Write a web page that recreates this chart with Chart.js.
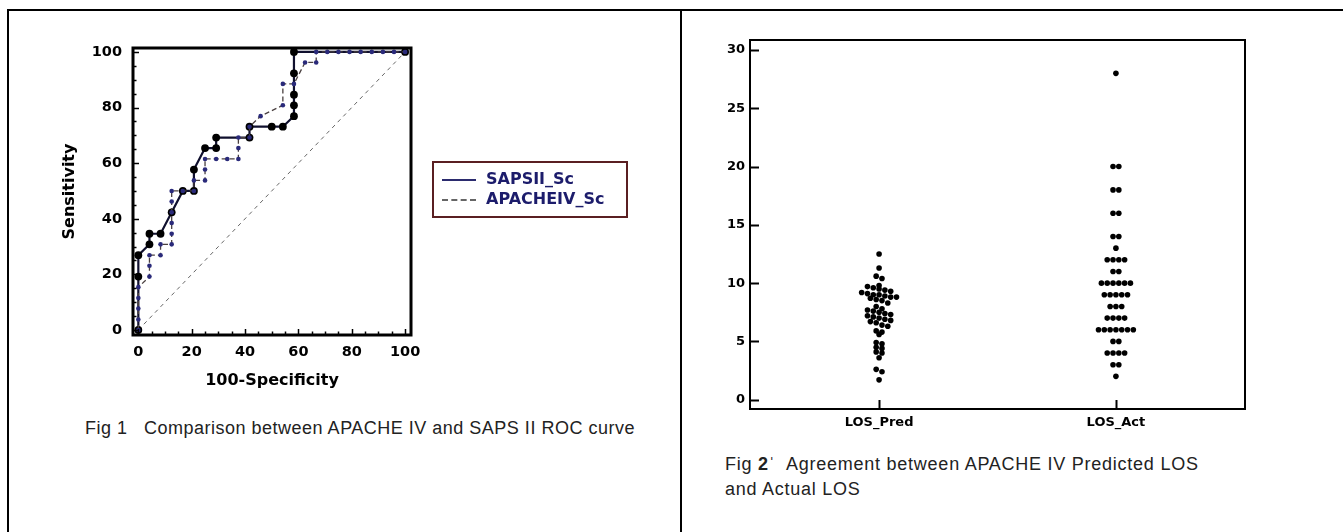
<!DOCTYPE html>
<html>
<head>
<meta charset="utf-8">
<script src="https://cdn.jsdelivr.net/npm/chart.js@4.4.1/dist/chart.umd.min.js"></script>
<style>
  html, body { margin: 0; padding: 0; background: #fff; }
  body { width: 1343px; height: 532px; position: relative; overflow: hidden; font-family: 'Liberation Sans', Arial, sans-serif; }
  .frame { position: absolute; left: 7px; top: 9px; width: 1400px; height: 600px; border-left: 2px solid #000; border-top: 2px solid #000; }
  .divider { position: absolute; left: 680px; top: 9px; width: 2px; height: 600px; background: #000; }
  #rocWrap { position: absolute; left: 20px; top: 20px; }
  #dotWrap { position: absolute; left: 700px; top: 20px; }
  .legend { position: absolute; left: 432px; top: 161px; width: 192px; height: 53px; border: 2px solid #5a1f22; font-family: 'DejaVu Sans', Verdana, sans-serif; font-weight: bold; font-size: 16px; color: #1c1c6b; }
  .legend .row { position: absolute; left: 8px; height: 20px; line-height: 20px; white-space: nowrap; }
  .legend .row span.sample { display: inline-block; width: 34px; vertical-align: middle; margin-right: 10px; }
  .legend .solid { border-top: 2px solid #2b2b6e; }
  .legend .dashed { border-top: 2px dashed #666; }
  .caption { position: absolute; font-size: 18px; color: #222; white-space: nowrap; letter-spacing: 0.5px; }
</style>
</head>
<body>
<div class="frame"></div>
<div class="divider"></div>

<div id="rocWrap"><canvas id="roc" width="420" height="390"></canvas></div>
<div class="legend">
  <div class="row" style="top:6px"><span class="sample solid"></span>SAPSII_Sc</div>
  <div class="row" style="top:26px"><span class="sample dashed"></span>APACHEIV_Sc</div>
</div>
<div class="caption" style="left:85px; top:418px;">Fig 1&nbsp;&nbsp; Comparison between APACHE IV and SAPS II ROC curve</div>

<div id="dotWrap"><canvas id="dots" width="600" height="420"></canvas></div>
<div class="caption" style="left:725px; top:454px; letter-spacing: 0.75px;">Fig <b>2</b>ˈ&nbsp; Agreement between APACHE IV Predicted LOS</div>
<div class="caption" style="left:725px; top:479px; letter-spacing: 0.75px;">and Actual LOS</div>

<script>
// ROC curves (100-Specificity, Sensitivity)
const sapsX = [0, 0, 0, 4.17, 4.17, 8.33, 12.5, 16.67, 20.83, 20.83, 25, 29.17, 29.17, 41.67, 41.67, 50, 54.17, 58.33, 58.33, 58.33, 58.33, 58.33, 100];
const sapsY = [0, 19.2, 26.9, 30.8, 34.6, 34.6, 42.3, 50, 50, 57.7, 65.4, 65.4, 69.2, 69.2, 73.1, 73.1, 73.1, 76.9, 80.8, 84.6, 92.3, 100, 100];

const apacheX = [0, 0, 0, 0, 0, 4.17, 4.17, 4.17, 8.33, 8.33, 12.5, 12.5, 12.5, 12.5, 12.5, 12.5, 16.67, 20.83, 20.83, 25, 25, 25, 29.17, 33.33, 37.5, 37.5, 37.5, 41.67, 41.67, 45.83, 54.17, 54.17, 58.33, 62.5, 66.67, 66.67, 70.83, 75, 79.17, 83.33, 87.5, 91.67, 95.83, 100];
const apacheY = [0, 3.8, 7.7, 11.5, 15.4, 19.2, 23.1, 26.9, 26.9, 30.8, 30.8, 34.6, 38.5, 42.3, 46.2, 50, 50, 50, 53.8, 53.8, 57.7, 61.5, 61.5, 61.5, 61.5, 65.4, 69.2, 69.2, 73.1, 76.9, 80.8, 88.5, 88.5, 96.2, 96.2, 100, 100, 100, 100, 100, 100, 100, 100, 100];

const diagX = [0, 100];
const diagY = [0, 100];

// length of stay dot plot
const losCategories = ['LOS_Pred', 'LOS_Act'];
const losPred = [12.5, 11.3, 10.6, 10.4,
  9.8, 9.7, 9.6, 9.5, 9.4, 9.3, 9.2, 9.1, 9.0, 9.0, 8.9, 8.8, 8.8, 8.7, 8.6, 8.5, 8.3,
  8.0, 7.8, 7.7, 7.6, 7.5, 7.4, 7.3, 7.2, 7.1, 7.0, 6.9, 6.8, 6.7, 6.6, 6.4, 6.3,
  5.9, 5.8, 5.6, 4.9, 4.8, 4.5, 4.4, 4.1, 4.0, 3.6, 2.6, 2.4, 1.7];
const losAct = [28, 20, 20, 18, 18, 16, 16, 14, 14, 13, 12, 12, 12, 12, 11, 11,
  10, 10, 10, 10, 10, 10, 9, 9, 9, 9, 9, 8, 8, 8, 7, 7, 7, 7,
  6, 6, 6, 6, 6, 6, 6, 5, 5, 4, 4, 4, 4, 3, 3, 2];

const pts = (xs, ys) => xs.map((x, i) => ({ x, y: ys[i] }));

function dotRows(values, center, bin, gap) {
  const groups = {};
  values.forEach((v) => {
    const k = Math.round(v / bin);
    (groups[k] = groups[k] || []).push(v);
  });
  const out = [];
  Object.values(groups).forEach((g) => {
    g.forEach((v, i) => out.push({ x: center + (i - (g.length - 1) / 2) * gap, y: v }));
  });
  return out;
}

// inward tick marks + closed frame, like the original stats package draws them
const frameTicks = {
  id: 'frameTicks',
  afterDraw(chart, args, opts) {
    const { ctx, chartArea: a } = chart;
    ctx.save();
    ctx.strokeStyle = '#000';
    ctx.lineWidth = opts.tickWidth || 1.5;
    ['x', 'y'].forEach((id) => {
      const s = chart.scales[id];
      s.ticks.forEach((t) => {
        const len = t.value % opts.majorEvery === 0 ? opts.major : opts.minor;
        const p = Math.round(s.getPixelForValue(t.value)) + 0.5;
        ctx.beginPath();
        if (id === 'x') { ctx.moveTo(p, a.bottom); ctx.lineTo(p, a.bottom - len); }
        else { ctx.moveTo(a.left, p); ctx.lineTo(a.left + len, p); }
        ctx.stroke();
      });
    });
    ctx.lineWidth = opts.frameWidth;
    ctx.strokeRect(a.left, a.top, a.right - a.left, a.bottom - a.top);
    ctx.restore();
  }
};

const boldFont = (size) => ({ family: "'DejaVu Sans', Verdana, sans-serif", weight: 'bold', size });
const noGrid = { display: false, drawTicks: false };

new Chart(document.getElementById('roc'), {
  type: 'scatter',
  data: {
    datasets: [
      {
        label: 'APACHEIV_Sc',
        data: pts(apacheX, apacheY),
        showLine: true,
        borderColor: '#4a4040',
        borderWidth: 1.3,
        borderDash: [5, 3],
        pointRadius: 2.3,
        pointBackgroundColor: '#2a2a7a',
        pointBorderWidth: 0
      },
      {
        label: 'SAPSII_Sc',
        data: pts(sapsX, sapsY),
        showLine: true,
        borderColor: '#10102e',
        borderWidth: 2.2,
        pointRadius: 3.9,
        pointBackgroundColor: '#000',
        pointBorderWidth: 0
      },
      {
        label: 'ref',
        data: pts(diagX, diagY),
        showLine: true,
        borderColor: '#666',
        borderWidth: 1,
        borderDash: [4, 4],
        pointRadius: 0
      }
    ]
  },
  options: {
    responsive: false,
    animation: false,
    layout: { padding: { left: 36, top: 28, right: 29, bottom: 16 } },
    plugins: {
      legend: { display: false },
      tooltip: { enabled: false },
      frameTicks: { majorEvery: 20, major: 6, minor: 3.5, frameWidth: 3, tickWidth: 1.5 }
    },
    scales: {
      x: {
        type: 'linear',
        min: -2,
        max: 102.2,
        afterFit: (s) => { s.height = 59; },
        grid: noGrid,
        border: { display: false },
        ticks: { stepSize: 5, autoSkip: false, includeBounds: false, maxRotation: 0, padding: 9, color: '#000', font: boldFont(14.5),
          callback: (v) => (v % 20 === 0 ? v : '') },
        title: { display: true, text: '100-Specificity', color: '#000', font: boldFont(16) }
      },
      y: {
        min: -1.8,
        max: 101.4,
        afterFit: (s) => { s.width = 77; },
        grid: noGrid,
        border: { display: false },
        ticks: { stepSize: 5, autoSkip: false, includeBounds: false, padding: 11, color: '#000', font: boldFont(14.5),
          callback: (v) => (v % 20 === 0 ? v : '') },
        title: { display: true, text: 'Sensitivity', color: '#000', font: boldFont(16) }
      }
    }
  },
  plugins: [frameTicks]
});

new Chart(document.getElementById('dots'), {
  type: 'scatter',
  data: {
    datasets: [
      { label: losCategories[0], data: dotRows(losPred, 0, 0.5, 0.0245) },
      { label: losCategories[1], data: dotRows(losAct, 1, 0.5, 0.0245) }
    ]
  },
  options: {
    responsive: false,
    animation: false,
    layout: { padding: { left: 10, top: 20, right: 55, bottom: 3 } },
    elements: { point: { radius: 2.8, backgroundColor: '#000', borderWidth: 0 } },
    plugins: {
      legend: { display: false },
      tooltip: { enabled: false },
      frameTicks: { majorEvery: 1, major: 9, minor: 10, frameWidth: 2, tickWidth: 2 }
    },
    scales: {
      x: {
        type: 'linear',
        min: -0.545,
        max: 1.545,
        afterFit: (s) => { s.height = 28; },
        afterBuildTicks: (s) => { s.ticks = losCategories.map((c, i) => ({ value: i })); },
        grid: noGrid,
        border: { display: false },
        ticks: { autoSkip: false, maxRotation: 0, padding: 6, color: '#000', font: boldFont(13),
          callback: (v) => losCategories[v] }
      },
      y: {
        min: -0.8,
        max: 30.86,
        afterFit: (s) => { s.width = 40; },
        grid: noGrid,
        border: { display: false },
        ticks: { stepSize: 5, includeBounds: false, padding: 5, color: '#000', font: boldFont(13) }
      }
    }
  },
  plugins: [frameTicks]
});
</script>
</body>
</html>
